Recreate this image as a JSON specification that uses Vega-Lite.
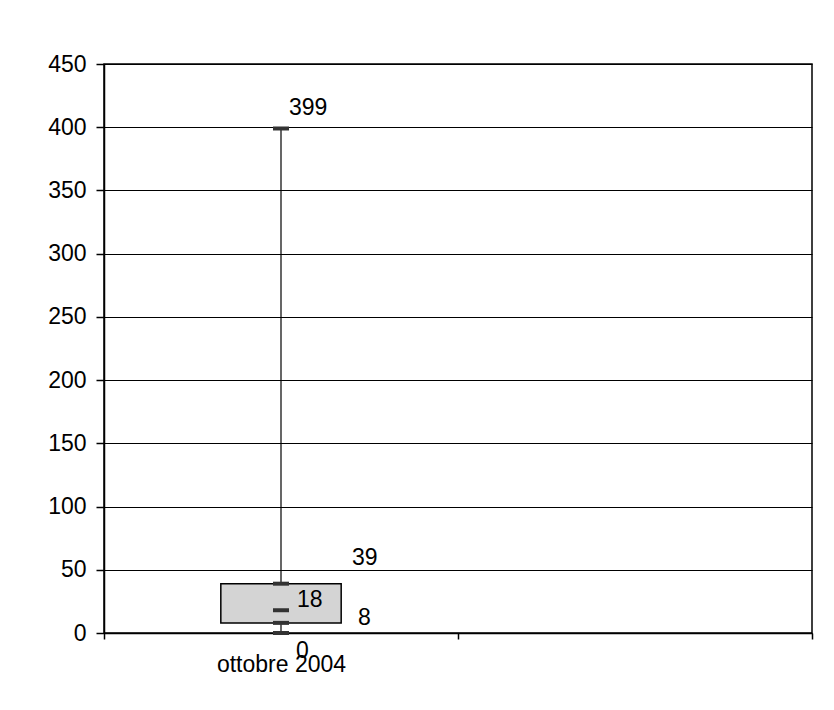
{
  "$schema": "https://vega.github.io/schema/vega-lite/v6.json",
  "width": 708,
  "height": 569,
  "autosize": "none",
  "padding": {"left": 104, "top": 64, "right": 22, "bottom": 77},
  "background": "white",
  "config": {
    "font": "Liberation Sans",
    "view": {"stroke": "black", "strokeWidth": 1.5},
    "axis": {"labelFont": "Liberation Sans", "labelFontSize": 23, "labelColor": "black", "domainColor": "black", "tickColor": "black", "domainWidth": 1.5, "tickWidth": 1.5}
  },
  "data": {"values": [{"periodo": "ottobre 2004", "min": 0, "q1": 8, "median": 18, "q3": 39, "max": 399}]},
  "encoding": {
    "x": {
      "field": "periodo", "type": "nominal",
      "scale": {"domain": ["ottobre 2004", " "], "paddingInner": 0, "paddingOuter": 0},
      "axis": {"title": null, "labelAngle": 0, "tickBand": "extent", "tickSize": 6, "labelPadding": 14, "grid": false}
    }
  },
  "layer": [
    {
      "mark": {"type": "rule", "color": "black", "strokeWidth": 1.2},
      "encoding": {
        "y": {"field": "min", "type": "quantitative", "scale": {"domain": [0, 450], "nice": false},
          "axis": {"title": null, "values": [0, 50, 100, 150, 200, 250, 300, 350, 400, 450], "tickSize": 8, "labelPadding": 10, "grid": true, "gridColor": "black", "gridWidth": 1.2, "gridOpacity": 1}},
        "y2": {"field": "max"}
      }
    },
    {
      "mark": {"type": "bar", "fill": "#d4d4d4", "stroke": "black", "strokeWidth": 1.5, "width": {"band": 0.34}},
      "encoding": {
        "y": {"field": "q1", "type": "quantitative"},
        "y2": {"field": "q3"}
      }
    },
    {
      "transform": [{"fold": ["min", "q1", "median", "q3", "max"], "as": ["stat", "value"]}],
      "mark": {"type": "tick", "color": "#333333", "size": 16, "thickness": 4, "opacity": 1},
      "encoding": {"y": {"field": "value", "type": "quantitative"}}
    },
    {
      "transform": [{"fold": ["max"], "as": ["stat", "value"]}],
      "mark": {"type": "text", "align": "left", "baseline": "middle", "fontSize": 23, "dx": 8, "dy": -20, "color": "black"},
      "encoding": {"y": {"field": "value", "type": "quantitative"}, "text": {"field": "value", "type": "quantitative"}}
    },
    {
      "transform": [{"fold": ["q3"], "as": ["stat", "value"]}],
      "mark": {"type": "text", "align": "left", "baseline": "middle", "fontSize": 23, "dx": 71, "dy": -26, "color": "black"},
      "encoding": {"y": {"field": "value", "type": "quantitative"}, "text": {"field": "value", "type": "quantitative"}}
    },
    {
      "transform": [{"fold": ["median"], "as": ["stat", "value"]}],
      "mark": {"type": "text", "align": "left", "baseline": "middle", "fontSize": 23, "dx": 16, "dy": -10, "color": "black"},
      "encoding": {"y": {"field": "value", "type": "quantitative"}, "text": {"field": "value", "type": "quantitative"}}
    },
    {
      "transform": [{"fold": ["q1"], "as": ["stat", "value"]}],
      "mark": {"type": "text", "align": "left", "baseline": "middle", "fontSize": 23, "dx": 77, "dy": -5, "color": "black"},
      "encoding": {"y": {"field": "value", "type": "quantitative"}, "text": {"field": "value", "type": "quantitative"}}
    },
    {
      "transform": [{"fold": ["min"], "as": ["stat", "value"]}],
      "mark": {"type": "text", "align": "left", "baseline": "middle", "fontSize": 23, "dx": 15, "dy": 18, "color": "black"},
      "encoding": {"y": {"field": "value", "type": "quantitative"}, "text": {"field": "value", "type": "quantitative"}}
    }
  ]
}
